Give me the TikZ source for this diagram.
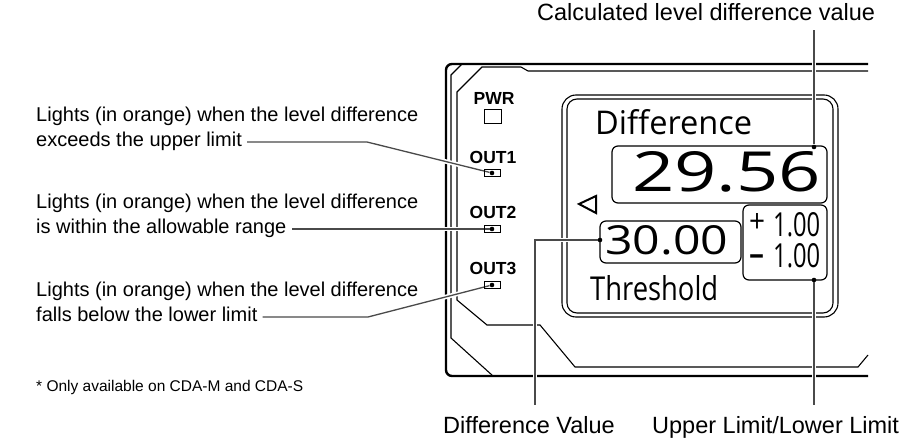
\documentclass[tikz,border=0pt]{standalone}
\usepackage{fontspec}
\setmainfont{Liberation Sans}
\newfontfamily\dispfont{Open Sans}
\usepackage{graphicx}
\usetikzlibrary{calc}
\definecolor{leadgray}{HTML}{4A4A4A}
\newcommand{\fitto}[3]{\resizebox{#1pt}{#2pt}{#3}}
\tikzset{
 frameline/.style={line width=2.4pt, line join=round},
 thinline/.style={line width=1.1pt, line join=miter},
 dbox/.style={line width=1.2pt, rounded corners=6pt},
 leader/.style={draw=leadgray, line width=1.3pt, preaction={draw=white, line width=4.5pt}},
 dotnode/.style={circle, fill=black, inner sep=0pt, minimum size=4.6pt},
 lbl/.style={font=\fontsize{20}{24}\selectfont, inner sep=0pt, anchor=base west},
 caplbl/.style={font=\fontsize{23.5}{28}\selectfont, inner sep=0pt},
 outlbl/.style={font=\bfseries\fontsize{17.5}{20}\selectfont, inner sep=0pt},
 disp/.style={font=\dispfont, inner sep=0pt, anchor=base west},
 led/.style={draw, line width=1pt, minimum width=16pt, minimum height=7pt, inner sep=0pt},
}
\begin{document}
\begin{tikzpicture}[x=1pt,y=-1pt]
\useasboundingbox (0,0) rectangle (904,443);
% device frame
\draw[frameline, rounded corners=6pt] (868,64) -- (446,64) -- (446,376) -- (868,376);
\draw[thinline] (462,64) -- (451,75) -- (451,338) -- (493,376);
\draw[thinline] (868,71) -- (528,71) -- (521,67) -- (482,67) -- (457,92) -- (457,300) -- (487,325) -- (540,325) -- (575,367) -- (858,367) -- (868,355);
% display bezel
\draw[thinline, rounded corners=14pt] (562,95) rectangle (838,317);
\draw[thinline, rounded corners=10pt] (567,99) rectangle (833,313);
% display boxes
\draw[dbox] (612,146) rectangle (827,203);
\draw[dbox] (600,221) rectangle (741,263);
\draw[dbox] (743,205) rectangle (827,280);
% triangle
\draw[line width=2pt, line join=miter] (579,204) -- (596,196) -- (596,213) -- cycle;
% display texts
\node[disp] (tdiff) at (595,135) {\fitto{157}{25}{Difference}};
\node[disp] (tval) at (632,192) {\fitto{189}{40}{29.56}};
\node[disp] (tthr) at (605,255) {\fitto{123}{29}{30.00}};
\node[disp] (tplus) at (749,233) {\fitto{16}{19}{+}};
\node[disp] (tup) at (773,237) {\fitto{47}{24}{1.00}};
\node[disp, font=\dispfont\bfseries\fontsize{30}{30}\selectfont] (tminus) at (749,265) {–};
\node[disp] (tlo) at (773,268) {\fitto{47}{24}{1.00}};
\node[disp] (tthresh) at (590,300) {\fitto{128}{25}{Threshold}};
% indicator labels
\node[outlbl] (pwrl) at (494,98) {PWR};
\node[draw, line width=1pt, minimum width=17pt, minimum height=14pt, inner sep=0pt] (pwrbox) at (492.5,117) {};
\node[outlbl] (o1) at (493,157) {OUT1};
\node[outlbl] (o2) at (493,212) {OUT2};
\node[outlbl] (o3) at (493,268) {OUT3};
% left labels
\node[lbl] (a1) at (36,122) {Lights (in orange) when the level difference};
\node[lbl] (a2) at (36,147) {exceeds the upper limit};
\node[lbl] (b1) at (36,209) {Lights (in orange) when the level difference};
\node[lbl] (b2) at (36,234) {is within the allowable range};
\node[lbl] (c1) at (36,297) {Lights (in orange) when the level difference};
\node[lbl] (c2) at (36,322) {falls below the lower limit};
\node[lbl, font=\fontsize{15.5}{19}\selectfont] (fn) at (36,391) {* Only available on CDA-M and CDA-S};
% caption labels
\node[caplbl, anchor=base west] (tcl) at (537,21) {Calculated level difference value};
\node[caplbl, anchor=base east] (bdv) at (615,433) {Difference Value};
\node[caplbl, anchor=base west] (bul) at (652,433) {Upper Limit/Lower Limit};
% dots
\node[dotnode] (dv) at (814,147) {};
\node[dotnode] (dt) at (600,240) {};
\node[dotnode] (dl) at (814,280) {};
\node[dotnode] (dL1) at (492,173) {};
\node[dotnode] (dL2) at (492,229) {};
\node[dotnode] (dL3) at (492,285) {};
% leader coordinates
\coordinate (kv) at (814,30);
\coordinate (kt1) at (535,240);
\coordinate (kt2) at (535,405);
\coordinate (kl) at (814,405);
\coordinate (k1) at (367,142);
\coordinate (e1) at ($(a2.base east |- k1)+(5,0)$);
\coordinate (e2) at ($(b2.base east |- dL2)+(5,0)$);
\coordinate (k3) at (368,317);
\coordinate (e3) at ($(c2.base east |- k3)+(5,0)$);
% leaders
\draw[leader] (dv) -- (kv);
\draw[leader] (dt) -- (kt1) -- (kt2);
\draw[leader] (dl) -- (kl);
\draw[leader] (dL1) -- (k1) -- (e1);
\draw[leader] (dL2) -- (e2);
\draw[leader] (dL3) -- (k3) -- (e3);
% LEDs
\node[led] (led1) at (492,173) {};
\node[led] (led2) at (492,229) {};
\node[led] (led3) at (492,285) {};
\end{tikzpicture}
\end{document}
